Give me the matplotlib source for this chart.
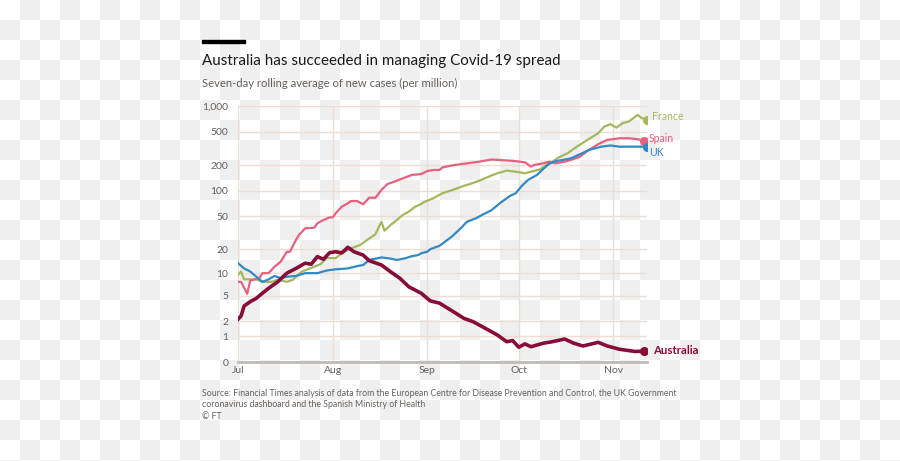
import numpy as np
import matplotlib
matplotlib.use("Agg")
import matplotlib.pyplot as plt
import matplotlib.dates as mdates
from matplotlib.patches import Rectangle

# data: days since 1 Jul 2020 and 7-day avg cases per million
start = np.datetime64("2020-07-01")

aus_days = [0, 1, 2, 4, 6, 8, 10, 13, 16, 19, 22, 24, 26, 28, 30, 32, 34, 36, 38,
            41, 43, 47, 50, 53, 56, 60, 63, 66, 70, 74, 77, 80, 85, 88, 90, 92, 94,
            96, 100, 103, 107, 110, 113, 118, 121, 125, 130, 133]
aus_vals = [2.17, 2.46, 3.53, 4.09, 4.58, 5.4, 6.3, 7.7, 10, 11.5, 13.4, 13, 16.2,
            15, 18.1, 18.6, 18, 21.1, 18.6, 16.9, 14.4, 12.7, 10.4, 8.6, 6.6, 5.4,
            4.2, 3.9, 3.0, 2.25, 1.97, 1.6, 1.07, 0.73, 0.78, 0.49, 0.63, 0.51, 0.66,
            0.73, 0.86, 0.66, 0.54, 0.70, 0.54, 0.41, 0.33, 0.34]

spain_days = [0, 1, 3, 4, 7, 8, 10, 12, 14, 16, 17, 19, 20, 21, 22, 25, 26, 28, 30,
              31, 32, 34, 36, 37, 39, 41, 43, 45, 47, 49, 51, 54, 57, 60, 62, 64, 66,
              67, 71, 75, 79, 83, 86, 90, 94, 96, 97, 100, 102, 104, 107, 109, 112,
              115, 118, 121, 125, 128, 131, 133]
spain_vals = [7.7, 7.7, 5.3, 8.0, 8.6, 10, 10, 12.1, 14, 18.6, 18.6, 26, 30, 32.7,
              35.9, 36.5, 41.3, 45.2, 48.5, 48.5, 54.4, 65, 71.5, 76, 76, 69.6, 83.4,
              83, 103, 121, 128, 141, 155, 158, 172, 177, 177, 190, 203, 212, 222,
              235, 232, 227, 218, 194, 203, 212, 222, 212, 222, 232, 254, 305, 356,
              400, 418, 418, 407, 390]

france_days = [0, 1, 2, 6, 8, 11, 13, 16, 18, 19, 21, 25, 27, 29, 32, 34, 37, 40, 42,
               45, 47, 48, 50, 52, 54, 56, 58, 60, 61, 64, 66, 67, 71, 74, 76, 79, 83,
               85, 88, 91, 94, 96, 99, 101, 103, 105, 108, 111, 114, 118, 120, 122,
               124, 126, 128, 131, 132, 134]
france_vals = [9.5, 10.5, 8.3, 8.3, 7.7, 7.7, 8.2, 7.7, 8.2, 9, 10.5, 12.1, 13, 15.5,
               15.5, 17.8, 20.5, 22.5, 25.5, 30.4, 43, 33.6, 39.4, 45, 52, 57, 65, 70,
               74, 82, 90, 94, 105, 115, 121, 132, 152, 162, 174, 169, 162, 169, 180,
               203, 222, 248, 279, 333, 390, 479, 573, 612, 557, 629, 656, 786, 731,
               686]

uk_days = [0, 2, 4, 6, 8, 10, 12, 14, 16, 19, 22, 26, 29, 32, 36, 39, 41, 43, 47, 50,
           52, 55, 57, 59, 60, 62, 63, 66, 70, 73, 75, 78, 80, 83, 86, 89, 91, 93, 95,
           98, 100, 102, 104, 109, 112, 115, 119, 122, 125, 129, 134]
uk_vals = [13.4, 11.5, 10.5, 9, 7.7, 8.3, 9.2, 8.6, 9, 9.2, 10, 10, 10.8, 11.2, 11.5,
           12.3, 12.7, 14.7, 15.8, 15.3, 14.7, 15.5, 16.4, 16.9, 17.8, 18.6, 20, 22,
           28.4, 36, 43, 47.4, 52, 59, 72.5, 87, 94, 115, 135, 155, 182, 210, 225,
           242, 271, 305, 333, 344, 333, 333, 333]

y_ticks = [0, 1, 2, 5, 10, 20, 50, 100, 200, 500, 1000]
y_labels = ["0", "1", "2", "5", "10", "20", "50", "100", "200", "500", "1,000"]

series = [
    ("France", france_days, france_vals, "#a3b85c", 1.6),
    ("Spain", spain_days, spain_vals, "#e8607f", 1.6),
    ("UK", uk_days, uk_vals, "#3189c6", 1.6),
    ("Australia", aus_days, aus_vals, "#870c3a", 2.6),
]

grey_text = "#66605c"
grid_col = "#efdcd2"

W, H = 900, 461
fig = plt.figure(figsize=(W / 100, H / 100), dpi=100)

# transparency checkerboard behind everything (as in the reference)
rows = np.arange(H)[:, None] // 20
cols = np.arange(W)[None, :] // 20
board = np.where((rows + cols) % 2 == 1, 0xef, 0xff).astype(np.uint8)
fig.figimage(np.dstack([board] * 3), xo=0, yo=0, origin="upper", zorder=-10)

ax = fig.add_axes([238 / W, 99 / H, 409 / W, 256 / H])
ax.set_facecolor("none")

ax.set_yscale("function", functions=(lambda v: np.log10(1 + np.maximum(v, -0.99)),
                                     lambda v: 10 ** v - 1))

for name, days, vals, col, lw in series:
    dates = start + np.array(days)
    ax.plot(dates, vals, color=col, lw=lw, solid_joinstyle="round", zorder=3)
    ax.plot(dates[-1], vals[-1], "o", color=col, ms=5.5, zorder=4)

ax.set_ylim(0, 1000)
ax.set_xlim(start, start + np.timedelta64(134, "D"))
ax.set_yticks(y_ticks)
ax.set_yticklabels(y_labels)
ax.xaxis.set_major_locator(mdates.MonthLocator())
ax.xaxis.set_major_formatter(mdates.DateFormatter("%b"))

ax.grid(True, color=grid_col, lw=1)
ax.set_axisbelow(True)
for s in ["top", "right", "left"]:
    ax.spines[s].set_visible(False)
ax.spines["bottom"].set_color("#bdbab7")
ax.spines["bottom"].set_linewidth(2)
ax.tick_params(length=0, labelsize=7.5, labelcolor=grey_text)
ax.tick_params(axis="y", pad=7)
ax.tick_params(axis="x", pad=3)
for lab in ax.get_xticklabels() + ax.get_yticklabels():
    lab.set_family("Lato")

# end labels
lab_font = dict(family="Lato", va="center")
fig.text(652 / W, 1 - 117 / H, "France", color="#a3b85c", fontsize=7.6, **lab_font)
fig.text(649 / W, 1 - 139 / H, "Spain", color="#e8607f", fontsize=7.6, **lab_font)
fig.text(649 / W, 1 - 153 / H, "UK", color="#3189c6", fontsize=7.6, **lab_font)
fig.text(653 / W, 1 - 350 / H, "Australia", color="#870c3a", fontweight="bold",
         fontsize=8.2, **lab_font)

# header
fig.patches.append(Rectangle((202 / W, 1 - 43 / H), 43 / W, 3 / H,
                             transform=fig.transFigure, color="black"))
fig.text(202 / W, 1 - 65 / H, "Australia has succeeded in managing Covid-19 spread",
         family="Lato", fontsize=10.9, color="#1a1a1a", va="baseline")
fig.text(202 / W, 1 - 87 / H, "Seven-day rolling average of new cases (per million)",
         family="Lato", fontsize=8.1, color=grey_text, va="baseline")

# source
fig.text(202 / W, 1 - 389 / H,
         "Source: Financial Times analysis of data from the European Centre for Disease "
         "Prevention and Control, the UK Government\n"
         "coronavirus dashboard and the Spanish Ministry of Health\n© FT",
         family="Lato", fontsize=6.3, color=grey_text, va="top", linespacing=1.35)

fig.savefig("out.png", dpi=100)
